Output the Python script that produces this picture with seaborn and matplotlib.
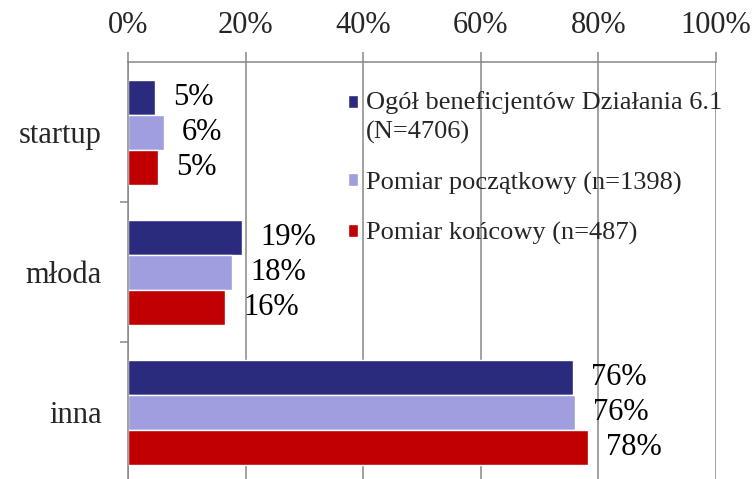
import matplotlib
matplotlib.use('Agg')
import matplotlib.pyplot as plt
from matplotlib.ticker import PercentFormatter, FixedLocator
import seaborn as sns
import pandas as pd

# data (shares, 0-1)
categories = ['startup', 'młoda', 'inna']
series_names = ['Ogół beneficjentów Działania 6.1\n(N=4706)',
                'Pomiar początkowy (n=1398)',
                'Pomiar końcowy (n=487)']
ogol = [0.046, 0.194, 0.757]
poczatkowy = [0.061, 0.177, 0.760]
koncowy = [0.051, 0.165, 0.782]
label_texts = [['5%', '19%', '76%'],
               ['6%', '18%', '76%'],
               ['5%', '16%', '78%']]

colors = ['#2B2B7E', '#9F9FDF', '#C00000']

df = pd.DataFrame({
    'kategoria': categories * 3,
    'udzial': ogol + poczatkowy + koncowy,
    'grupa': [s for s in series_names for _ in categories],
})

sns.set_theme(style='white')
plt.rcParams['font.family'] = ['Liberation Serif', 'DejaVu Serif']
FS = 22

fig = plt.figure(figsize=(7.53, 4.79), dpi=100)
ax = fig.add_axes([128 / 753, -3 / 479, 588 / 753, 420 / 479])

sns.barplot(data=df, y='kategoria', x='udzial', hue='grupa', orient='h',
            palette=colors, saturation=1, width=0.75, edgecolor='white',
            linewidth=1, ax=ax, legend=True)

# value labels
for cont, texts in zip(ax.containers, label_texts):
    ax.bar_label(cont, labels=texts, padding=13, fontsize=FS, color='black')

ax.set_xlim(0, 1)
ax.set_ylim(2.5, -0.5)
ax.xaxis.tick_top()
ax.xaxis.set_major_locator(FixedLocator([0, 0.2, 0.4, 0.6, 0.8, 1.0]))
ax.xaxis.set_major_formatter(PercentFormatter(1.0, decimals=0))
ax.set_xlabel('')
ax.set_ylabel('')

grid_col = '#878787'
ax.grid(axis='x', color=grid_col, linewidth=1.1)
ax.set_axisbelow(True)
for side in ['right', 'bottom']:
    ax.spines[side].set_visible(False)
for side in ['top', 'left']:
    ax.spines[side].set_color(grid_col)
    ax.spines[side].set_linewidth(1.1)

ax.tick_params(axis='x', which='major', top=True, direction='out', length=7,
               width=1.1, color=grid_col, pad=9, labelsize=FS)
ax.yaxis.set_minor_locator(FixedLocator([0.5, 1.5]))
ax.tick_params(axis='y', which='major', left=False, length=0, pad=19,
               labelsize=FS)
ax.tick_params(axis='y', which='minor', left=True, direction='out', length=6,
               width=1.1, color=grid_col)

leg = ax.legend(loc='upper left', bbox_to_anchor=(0.356, 0.955), frameon=False,
                fontsize=19, handlelength=0.4, handleheight=0.4,
                handletextpad=0.3, labelspacing=1.05, borderaxespad=0)
for t in leg.get_texts():
    t.set_linespacing(1.35)
# first legend marker sits next to the first line of its two-line label
h0 = leg.legend_handles[0]
h0.set_y(h0.get_y() + 11)

fig.savefig('out.png', dpi=100)
